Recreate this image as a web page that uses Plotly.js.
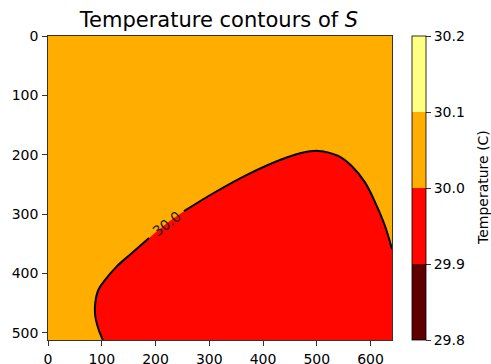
<!DOCTYPE html>
<html>
<head>
<meta charset="utf-8">
<script src="https://cdn.plot.ly/plotly-3.0.1.min.js"></script>
<style>
  html, body { margin: 0; padding: 0; background: #fff; }
  #chart { width: 491px; height: 364px; }
</style>
</head>
<body>
<div id="chart"></div>
<script>
// Temperature bands (C) and their fill colours ("hot" colormap, band midpoints)
const levels = [29.8, 29.9, 30.0, 30.1, 30.2];
const bandColors = ['#5e0000', '#ff0700', '#ffae00', '#ffff82'];

// Grid extent (pixel columns / rows of the field)
const gridX = [0, 640];
const gridY = [0, 512];
// Temperature of the surrounding field (inside the 30.0 - 30.1 band)
const fieldTemp = [[30.05, 30.05], [30.05, 30.05]];

// The 30.0 C isotherm, from the bottom edge round to the right edge
const isoX = [102, 94, 88, 88, 94, 107, 128, 153, 188, 220, 253, 309, 372, 434, 471, 503, 540, 565, 590, 609, 627, 640];
const isoY = [512, 494, 472, 449, 427, 410, 388, 368, 340, 316, 295, 264, 233, 208, 197, 193.5, 202, 219, 247, 281, 320, 359];
// Corner enclosing the cooler (29.9 - 30.0) region
const coolCornerX = [640];
const coolCornerY = [512];

const isoLevel = 30.0;
const labelIdx = 9; // where the level label sits on the isotherm

const xTicks = [0, 100, 200, 300, 400, 500, 600];
const yTicks = [0, 100, 200, 300, 400, 500];

const fmt = v => v.toFixed(1);

// colour scale with hard steps between bands
const zmin = levels[0], zmax = levels[levels.length - 1];
const colorscale = [];
bandColors.forEach((c, i) => {
  colorscale.push([(levels[i] - zmin) / (zmax - zmin), c]);
  colorscale.push([(levels[i + 1] - zmin) / (zmax - zmin), c]);
});

const W = 491, H = 364;
const margin = { l: 48, r: 99, t: 36, b: 24, pad: 0 };
const plotW = W - margin.l - margin.r;
const toPaperX = px => (px - margin.l) / plotW;

const field = {
  type: 'heatmap',
  x: gridX, y: gridY, z: fieldTemp,
  zmin: zmin, zmax: zmax,
  colorscale: colorscale,
  hoverinfo: 'skip',
  colorbar: {
    thickness: 14, thicknessmode: 'pixels',
    len: 1, lenmode: 'fraction',
    x: toPaperX(412), xanchor: 'left', xpad: 0,
    y: 0.5, yanchor: 'middle', ypad: 0,
    outlinecolor: '#000', outlinewidth: 0.8,
    tickmode: 'array', tickvals: levels, ticktext: levels.map(fmt),
    ticks: 'outside', ticklen: 5, tickwidth: 0.8, tickcolor: '#000',
    tickfont: { family: 'DejaVu Sans', size: 14, color: '#000' }
  }
};

const coolRegion = {
  type: 'scatter', mode: 'lines',
  x: isoX.concat(coolCornerX),
  y: isoY.concat(coolCornerY),
  fill: 'toself', fillcolor: bandColors[1],
  line: { width: 0, shape: 'spline', smoothing: 1 },
  hoverinfo: 'skip', showlegend: false
};

// isotherm line, broken where its label is placed
const lineX = isoX.map((v, i) => i === labelIdx ? null : v);
const lineY = isoY.map((v, i) => i === labelIdx ? null : v);
const isoLine = {
  type: 'scatter', mode: 'lines',
  x: lineX, y: lineY,
  connectgaps: false,
  line: { color: '#000', width: 2, shape: 'spline', smoothing: 1 },
  hoverinfo: 'skip', showlegend: false
};

const axisFont = { family: 'DejaVu Sans', size: 14, color: '#000' };
const layout = {
  width: W, height: H,
  margin: margin,
  paper_bgcolor: '#fff', plot_bgcolor: '#fff',
  showlegend: false,
  title: {
    text: 'Temperature contours of <i>S</i>',
    font: { family: 'DejaVu Sans', size: 21, color: '#000' },
    x: 219 / W, xanchor: 'center', xref: 'container',
    y: 1 - 19.5 / H, yanchor: 'middle', yref: 'container'
  },
  xaxis: {
    range: [0, 640], tickmode: 'array', tickvals: xTicks,
    ticks: 'outside', ticklen: 5, tickwidth: 0.8, tickcolor: '#000',
    ticklabelstandoff: 1,
    showline: true, linecolor: '#000', linewidth: 0.8, mirror: true,
    showgrid: false, zeroline: false, tickfont: axisFont
  },
  yaxis: {
    range: [512, 0], tickmode: 'array', tickvals: yTicks,
    ticks: 'outside', ticklen: 5, tickwidth: 0.8, tickcolor: '#000',
    ticklabelstandoff: 1,
    showline: true, linecolor: '#000', linewidth: 0.8, mirror: true,
    showgrid: false, zeroline: false, tickfont: axisFont
  },
  annotations: [{
    x: isoX[labelIdx], y: isoY[labelIdx], xref: 'x', yref: 'y',
    text: fmt(isoLevel), showarrow: false, textangle: -37,
    font: { family: 'DejaVu Sans', size: 14, color: '#1a1a1a' }
  }, {
    // colour bar caption
    x: toPaperX(483), y: 0.5, xref: 'paper', yref: 'paper',
    text: 'Temperature (C)', showarrow: false, textangle: -90,
    xanchor: 'center', yanchor: 'middle',
    font: { family: 'DejaVu Sans', size: 14, color: '#000' }
  }]
};

Plotly.newPlot('chart', [field, coolRegion, isoLine], layout,
  { staticPlot: true, displayModeBar: false });
</script>
</body>
</html>
